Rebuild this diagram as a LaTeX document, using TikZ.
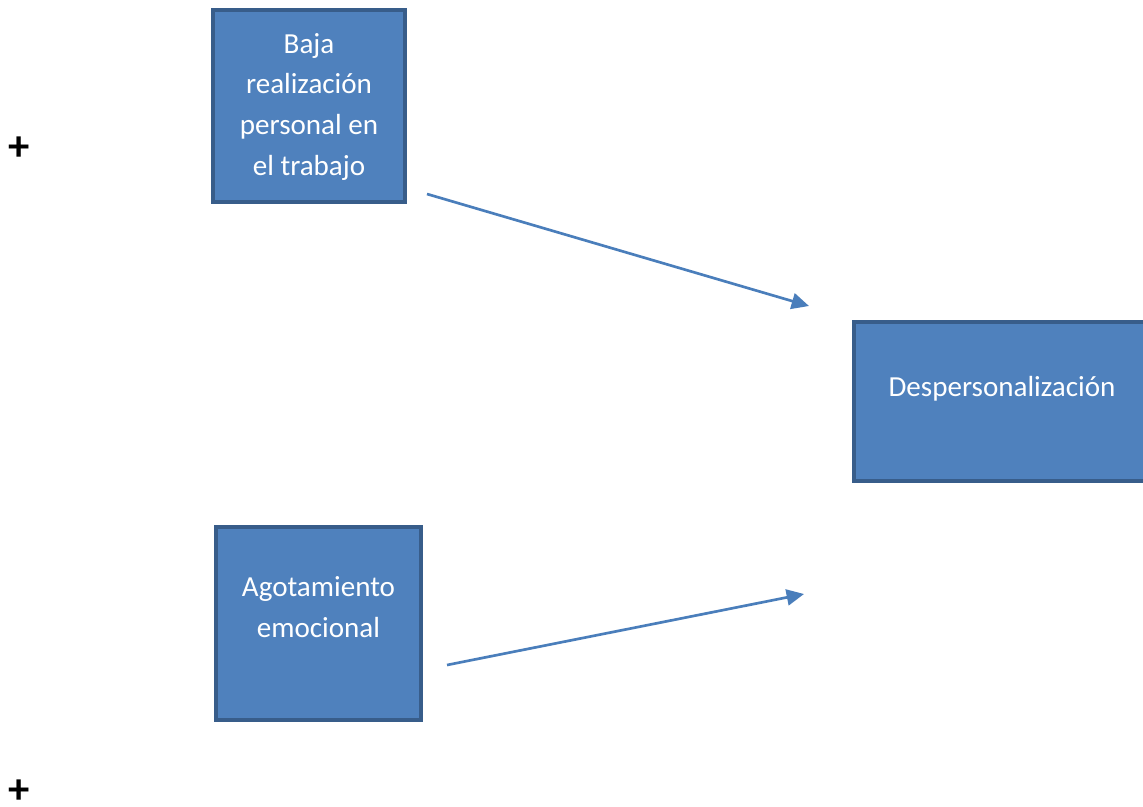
\documentclass[tikz,border=0pt]{standalone}
\usepackage{fontspec}
\setmainfont{Carlito}
\usepackage{tikz}
\usetikzlibrary{arrows.meta, positioning}
\definecolor{cajafill}{HTML}{4F81BD}
\definecolor{cajaline}{HTML}{385D8A}
\definecolor{flecha}{HTML}{4A7EBB}
\tikzset{
caja/.style={
  draw=cajaline,
  fill=cajafill,
  line width=3.25pt,
  rectangle,
  align=center,
  text=white,
  font=\fontsize{21.8}{30.5}\selectfont
},
rel/.style={
  draw=flecha,
  line width=2pt,
  -{Triangle[length=13pt,width=12pt]}
},
signo/.style={font=\fontsize{32}{36}\selectfont\bfseries, inner sep=0pt},
}

\begin{document}
\begin{tikzpicture}[x=0.75pt, y=-0.75pt]
\useasboundingbox (0,0) rectangle (1143,807);
\node[caja, minimum width=144pt, minimum height=144pt, text height=110pt, text depth=6.5pt] (baja) at (309,106)
  {Baja\\realización\\personal en\\el trabajo};
\node[caja, minimum width=222pt, minimum height=119.25pt, text height=14pt, text depth=22.25pt] (desp) at (1002,401.5)
  {Despersonalización};
\node[caja, minimum width=153.75pt, minimum height=144.75pt, text height=26pt, text depth=5.75pt] (agot) at (318.5,623.5)
  {Agotamiento\\emocional};
\node[signo] (plusA) at (19.5,149) {+};
\node[signo] (plusB) at (19.5,792) {+};
\coordinate (iniA) at (427,194);
\coordinate (finA) at (809,306);
\coordinate (iniB) at (447,665);
\coordinate (finB) at (804,594);
\draw[rel] (iniA) -- (finA);
\draw[rel] (iniB) -- (finB);
\end{tikzpicture}
\end{document}
